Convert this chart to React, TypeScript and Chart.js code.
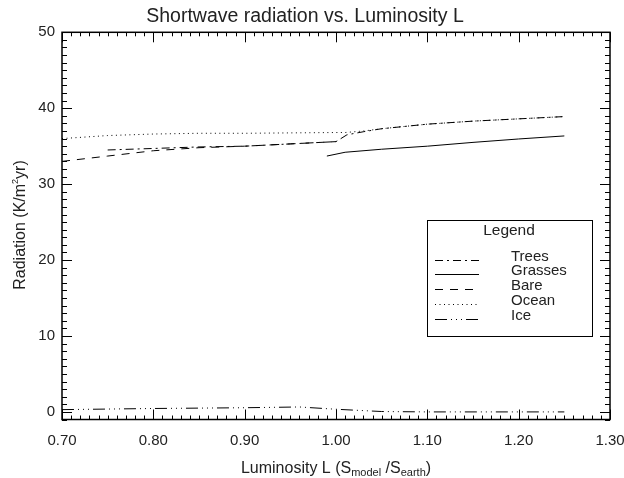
import React, { useEffect, useRef } from "react";
import { Chart, registerables } from "chart.js";

Chart.register(...registerables);

const FONT = '"Liberation Sans", Arial, Helvetica, sans-serif';

const titleText = "Shortwave radiation vs. Luminosity L";
const xTickValues = [0.7, 0.8, 0.9, 1.0, 1.1, 1.2, 1.3];
const yTickValues = [0, 10, 20, 30, 40, 50];
const seriesNames = ["Trees", "Grasses", "Bare", "Ocean", "Ice"];

const treesL = [0.75, 0.8, 0.85, 0.9, 0.95, 1.0, 1.012, 1.03, 1.05, 1.1, 1.15, 1.2, 1.25];
const treesR = [34.5, 34.7, 34.9, 35.0, 35.3, 35.6, 36.5, 36.9, 37.3, 37.9, 38.3, 38.6, 38.9];

const grassesL = [0.99, 1.01, 1.05, 1.1, 1.15, 1.2, 1.25];
const grassesR = [33.7, 34.2, 34.6, 35.0, 35.5, 35.95, 36.35];

const bareL = [0.7, 0.75, 0.8, 0.85, 0.9, 0.95, 1.0];
const bareR = [33.0, 33.7, 34.4, 34.8, 35.0, 35.3, 35.6];

const oceanL = [0.7, 0.75, 0.8, 0.85, 0.9, 0.95, 1.0, 1.01, 1.03, 1.05, 1.1, 1.15, 1.2, 1.25];
const oceanR = [36.0, 36.4, 36.6, 36.7, 36.7, 36.75, 36.8, 36.8, 37.0, 37.3, 37.9, 38.3, 38.6, 38.9];

const iceL = [0.7, 0.8, 0.9, 0.96, 1.0, 1.05, 1.1, 1.15, 1.2, 1.25];
const iceR = [0.3, 0.45, 0.55, 0.65, 0.35, 0.05, 0.0, 0.0, 0.0, 0.0];

const seriesL = [treesL, grassesL, bareL, oceanL, iceL];
const seriesR = [treesR, grassesR, bareR, oceanR, iceR];
const seriesDash = [[8, 4, 2, 4], [], [8, 7], [1, 3.5], [12, 4, 1, 4, 1, 4, 1, 4]];

const decorPlugin = {
  id: "idlDecor",
  afterDraw(chart: any) {
    const { ctx, chartArea: ca, scales } = chart;
    const xs = scales.x;
    const ys = scales.y;
    ctx.save();
    ctx.strokeStyle = "#000";
    // frame
    ctx.lineWidth = 1.5;
    ctx.strokeRect(ca.left, ca.top, ca.right - ca.left, ca.bottom - ca.top);
    // ticks
    ctx.lineWidth = 1;
    ctx.beginPath();
    for (let i = 70; i <= 130; i++) {
      const px = Math.round(xs.getPixelForValue(i / 100)) + 0.5;
      const len = i % 10 === 0 ? 10 : 4;
      ctx.moveTo(px, ca.bottom);
      ctx.lineTo(px, ca.bottom - len);
      ctx.moveTo(px, ca.top);
      ctx.lineTo(px, ca.top + len);
    }
    for (let j = -1; j <= 50; j++) {
      const py = Math.round(ys.getPixelForValue(j)) + 0.5;
      const len = j % 10 === 0 ? 10 : 5;
      ctx.moveTo(ca.left, py);
      ctx.lineTo(ca.left + len, py);
      ctx.moveTo(ca.right, py);
      ctx.lineTo(ca.right - len, py);
    }
    ctx.stroke();

    ctx.fillStyle = "#222";
    // x axis title with subscripts
    const big = "16px " + FONT;
    const small = "11px " + FONT;
    const xParts: [string, boolean][] = [
      ["Luminosity L (S", false],
      ["model", true],
      [" /S", false],
      ["earth", true],
      [")", false],
    ];
    let total = 0;
    for (const [t, sub] of xParts) {
      ctx.font = sub ? small : big;
      total += ctx.measureText(t).width;
    }
    let cx = 336 - total / 2;
    const cy = 467;
    ctx.textBaseline = "alphabetic";
    ctx.textAlign = "left";
    for (const [t, sub] of xParts) {
      ctx.font = sub ? small : big;
      ctx.fillText(t, cx, sub ? cy + 9 : cy + 6);
      cx += ctx.measureText(t).width;
    }

    // y axis title with superscript
    const yParts: [string, boolean][] = [
      ["Radiation (K/m", false],
      ["2", true],
      ["yr)", false],
    ];
    const sup = "9px " + FONT;
    total = 0;
    for (const [t, s] of yParts) {
      ctx.font = s ? sup : big;
      total += ctx.measureText(t).width;
    }
    ctx.save();
    ctx.translate(19, 225);
    ctx.rotate(-Math.PI / 2);
    let tx = -total / 2;
    for (const [t, s] of yParts) {
      ctx.font = s ? sup : big;
      ctx.fillText(t, tx, s ? -1 : 6);
      tx += ctx.measureText(t).width;
    }
    ctx.restore();

    // legend box
    ctx.strokeStyle = "#000";
    ctx.lineWidth = 1;
    ctx.strokeRect(427.5, 220.5, 165, 116);
    ctx.font = "15.5px " + FONT;
    ctx.textAlign = "center";
    ctx.textBaseline = "middle";
    ctx.fillText("Legend", 509, 231);
    ctx.textAlign = "left";
    ctx.font = "15px " + FONT;
    const rows = [257, 271, 286, 301, 316];
    chart.data.datasets.forEach((ds: any, i: number) => {
      const ry = rows[i];
      ctx.fillText(ds.label, 511, ry);
      ctx.beginPath();
      ctx.setLineDash(ds.borderDash || []);
      ctx.lineWidth = 1;
      ctx.moveTo(435, ry + 3.5);
      ctx.lineTo(479, ry + 3.5);
      ctx.stroke();
    });
    ctx.setLineDash([]);
    ctx.restore();
  },
};

export default function App() {
  const ref = useRef<HTMLCanvasElement | null>(null);
  useEffect(() => {
    if (!ref.current) return;
    const datasets = seriesNames.map((name, k) => ({
      label: name,
      data: seriesL[k].map((l, i) => ({ x: l, y: seriesR[k][i] })),
      borderColor: "#000",
      borderWidth: 1,
      borderDash: seriesDash[k],
      pointRadius: 0,
      fill: false,
      tension: 0,
    }));
    const tickFont = { family: FONT, size: 15 };
    const chart = new Chart(ref.current, {
      type: "line",
      data: { datasets },
      plugins: [decorPlugin],
      options: {
        responsive: false,
        animation: false,
        layout: { padding: { left: 0, right: 30, top: 0, bottom: 0 } },
        plugins: {
          legend: { display: false },
          tooltip: { enabled: false },
          title: {
            display: true,
            text: titleText,
            color: "#222",
            font: { family: FONT, size: 19.5, weight: "normal" },
            padding: { top: 5, bottom: 3.9 },
          },
        },
        scales: {
          x: {
            type: "linear",
            min: 0.7,
            max: 1.3,
            afterBuildTicks: (s: any) => {
              s.ticks = xTickValues.map((v) => ({ value: v }));
            },
            afterFit: (s: any) => {
              s.height = 58.5;
            },
            grid: { display: false, drawTicks: true, tickLength: 10 },
            border: { display: false },
            ticks: {
              padding: 2,
              color: "#222",
              font: tickFont,
              autoSkip: false,
              maxRotation: 0,
              callback: (v: any) => Number(v).toFixed(2),
            },
          },
          y: {
            type: "linear",
            min: -1,
            max: 50,
            afterBuildTicks: (s: any) => {
              s.ticks = yTickValues.map((v) => ({ value: v }));
            },
            afterFit: (s: any) => {
              s.width = 62;
            },
            grid: { display: false, drawTicks: true, tickLength: 4 },
            border: { display: false },
            ticks: {
              padding: 3,
              color: "#222",
              font: tickFont,
              autoSkip: false,
              callback: (v: any) => String(v),
            },
          },
        },
      } as any,
    });
    return () => chart.destroy();
  }, []);
  return (
    <div
      style={{
        position: "absolute",
        left: 0,
        top: 0,
        width: 624,
        height: 478,
        overflow: "hidden",
        background: "#fff",
      }}
    >
      <canvas ref={ref} width={640} height={478} style={{ display: "block" }} />
    </div>
  );
}
